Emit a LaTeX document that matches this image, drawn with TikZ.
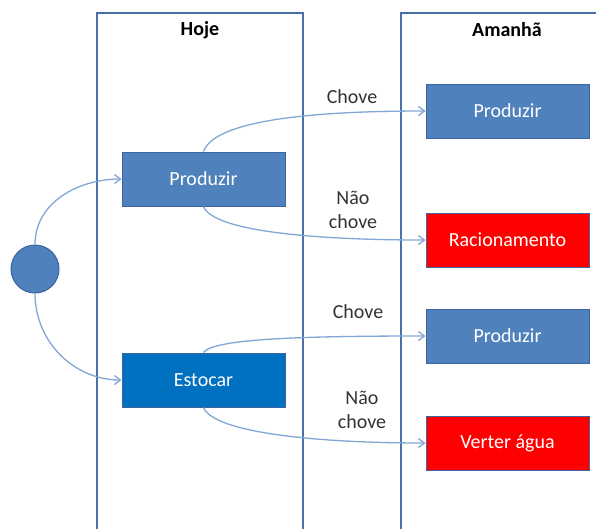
\documentclass[tikz,border=0pt]{standalone}
\usepackage{fontspec}
\setmainfont{Carlito}
\usepackage{tikz}
\usetikzlibrary{arrows.meta,positioning}

\definecolor{boxblue}{HTML}{4F81BD}
\definecolor{boxdeep}{HTML}{0070C0}
\definecolor{boxred}{HTML}{FF0000}
\definecolor{boxline}{HTML}{3B64A0}
\definecolor{laneline}{HTML}{4A70A8}
\definecolor{arrowblue}{HTML}{82A6D6}

\begin{document}
\begin{tikzpicture}[
  x=1pt, y=-1pt,
  font=\fontsize{20}{24}\selectfont,
  box/.style={draw=boxline, line width=1pt, fill=boxblue, text=white, minimum width=163pt, minimum height=54pt, inner sep=0pt},
  stock/.style={box, fill=boxdeep},
  alarm/.style={box, fill=boxred},
  lane/.style={draw=laneline, line width=2pt},
  title/.style={font=\fontsize{20}{24}\selectfont\bfseries},
  cond/.style={align=center, text=black!80},
  arrow/.style={-{Straight Barb[length=6pt,width=9pt]}, draw=arrowblue, line width=1.3pt}
]
\clip (0,0) rectangle (596,528);
\fill[white] (0,0) rectangle (596,528);

% lanes
\draw[lane] (97,13) rectangle (303,560);
\draw[lane] (401,13) rectangle (640,560);
\node[title] (hoje) at (200,30) {Hoje};
\node[title] (amanha) at (507,30) {Amanhã};

% decision node and today's choices
\node[circle, draw=boxline, line width=1pt, fill=boxblue, minimum size=48pt, inner sep=0pt] (start) at (35,269) {};
\node[box] (prodH) at (203.5,179) {Produzir};
\node[stock, below=146pt of prodH] (estoc) {Estocar};

% tomorrow's outcomes
\node[box] (prodA) at (507.5,111) {Produzir};
\node[alarm, below=74pt of prodA] (racio) {Racionamento};
\node[box, below=41pt of racio] (prodB) {Produzir};
\node[alarm, below=52pt of prodB] (verter) {Verter água};

\node[cond] (chove1) at (352,97) {Chove};
\node[cond] (nchove1) at (353,210) {Não\\chove};
\node[cond] (chove2) at (358,312) {Chove};
\node[cond] (nchove2) at (362,410) {Não\\chove};

\draw[arrow] (start.north) to[out=90, in=180] (prodH.west);
\draw[arrow] (start.south) to[out=-90, in=180] (estoc.west);
\draw[arrow] (prodH.north) .. controls +(12,-34) and +(-96,0) .. (prodA.west);
\draw[arrow] (prodH.south) .. controls +(10,25) and +(-110,0) .. (racio.west);
\draw[arrow] (estoc.north) .. controls +(10,-14) and +(-120,0) .. (prodB.west);
\draw[arrow] (estoc.south) .. controls +(10,25) and +(-110,0) .. (verter.west);
\end{tikzpicture}
\end{document}
